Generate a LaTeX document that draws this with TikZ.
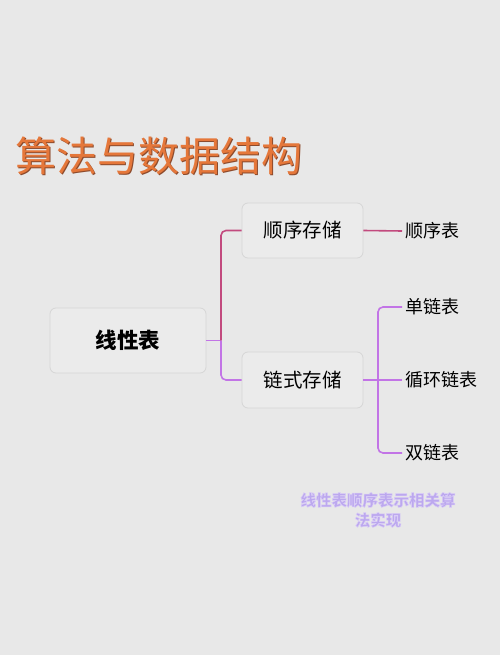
\documentclass[tikz,border=0pt]{standalone}
\usepackage{fontspec}
\newfontfamily\cjk{Noto Sans CJK SC}
\definecolor{bgcol}{HTML}{E8E8E8}
\definecolor{boxfill}{HTML}{EBEBEB}
\definecolor{boxline}{HTML}{D6D6D6}
\definecolor{pinkcol}{HTML}{C24A7E}
\definecolor{violetcol}{HTML}{C274E6}
\definecolor{titlecol}{HTML}{E5773A}
\definecolor{shadecol}{HTML}{8C4A2C}
\definecolor{markcol}{HTML}{BCA8EE}
\newcommand\outlined{\special{pdf:literal direct 2 Tr 0.5 w 0.85 0.80 0.97 RG}}

\begin{document}
\begin{tikzpicture}[x=1pt,y=-1pt,
  topic/.style={draw=boxline,fill=boxfill,rounded corners=6pt,line width=0.8pt,font=\cjk\fontsize{19.5}{22}\selectfont},
  leaf/.style={anchor=west,inner sep=3pt,font=\cjk\fontsize{18}{21}\selectfont},
  pinkline/.style={draw=pinkcol,line width=1.6pt},
  violetline/.style={draw=violetcol,line width=1.6pt}]
\fill[bgcol] (0,0) rectangle (500,655);
\useasboundingbox (0,0) rectangle (500,655);
    \node[anchor=west,inner sep=0pt,text=shadecol,font=\cjk\fontsize{41}{46}\selectfont] at (15.5+1.2,156+1.2) {算法与数据结构};
    \node[anchor=west,inner sep=0pt,text=titlecol,font=\cjk\fontsize{41}{46}\selectfont] (title) at (15.5,156) {算法与数据结构};
    \node[topic,minimum width=156pt,minimum height=65pt,font=\cjk\bfseries\fontsize{21.5}{24}\selectfont] (linear) at (128,340.5) {线性表};
    \node[topic,minimum width=121pt,minimum height=55pt] (seq) at (302.5,230.5) {顺序存储};
    \node[topic,minimum width=121pt,minimum height=56pt] (link) at (302.5,380) {链式存储};
    \node[leaf] (seqlist) at (402,231) {顺序表};
    \node[leaf] (single) at (402,307) {单链表};
    \node[leaf] (circ) at (402,380) {循环链表};
    \node[leaf] (double) at (402,453) {双链表};
    \coordinate (busA) at (221,340.5);
    \coordinate (busB) at (378,380);
    \draw[violetline] (linear.east) -- (busA);
    \draw[pinkline,rounded corners=5pt] (busA) |- (seq.west);
    \draw[violetline,rounded corners=5pt] (busA) |- (link.west);
    \draw[pinkline] (seq.east) -- (seqlist.west);
    \draw[violetline] (link.east) -- (busB);
    \draw[violetline,rounded corners=5pt] (busB) |- (single.west);
    \draw[violetline] (busB) -- (circ.west);
    \draw[violetline,rounded corners=5pt] (busB) |- (double.west);
    \node[align=center,text=markcol,font=\cjk\bfseries\fontsize{15.5}{20}\selectfont] (mark) at (378,510) {\outlined 线性表顺序表示相关算\\\outlined 法实现};
\end{tikzpicture}
\end{document}
